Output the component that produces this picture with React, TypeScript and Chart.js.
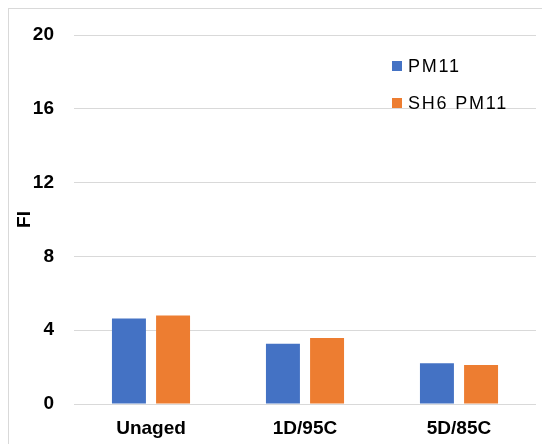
import React, { useEffect, useRef } from "react";
import { Chart, registerables } from "chart.js";

Chart.register(...registerables);

const categories = ["Unaged", "1D/95C", "5D/85C"];
const seriesNames = ["PM11", "SH6 PM11"];
const pm11 = [4.64, 3.26, 2.21];
const sh6pm11 = [4.8, 3.58, 2.12];
const yTicks = [0, 4, 8, 12, 16, 20];
const yTitle = "FI";

const BLUE = "#4472C4";
const ORANGE = "#ED7D31";
const GRID = "#d9d9d9";

const legendPlugin = {
  id: "insideLegend",
  afterDraw(chart: any) {
    const ctx = chart.ctx;
    const ds = chart.data.datasets;
    const x = 383;
    const y0 = 57;
    const gap = 37;
    ctx.save();
    ctx.font = "18px 'Liberation Sans', Arial, sans-serif";
    (ctx as any).letterSpacing = "1.8px";
    ctx.textBaseline = "middle";
    ctx.textAlign = "left";
    ds.forEach((d: any, i: number) => {
      const y = y0 + i * gap;
      ctx.fillStyle = d.backgroundColor;
      ctx.fillRect(x, y - 5, 10, 10);
      ctx.fillStyle = "#000";
      ctx.fillText(d.label, x + 16, y + 1);
    });
    ctx.restore();
  },
};

export default function App() {
  const ref = useRef<HTMLCanvasElement>(null);
  useEffect(() => {
    if (!ref.current) return;
    const chart = new Chart(ref.current, {
      type: "bar",
      data: {
        labels: categories,
        datasets: [
          { label: seriesNames[0], data: pm11, backgroundColor: BLUE },
          { label: seriesNames[1], data: sh6pm11, backgroundColor: ORANGE },
        ],
      },
      options: {
        animation: false,
        responsive: false,
        maintainAspectRatio: false,
        datasets: { bar: { categoryPercentage: 0.573, barPercentage: 0.77 } },
        layout: { padding: { top: 26, right: 14, bottom: 0, left: 0 } },
        plugins: { legend: { display: false }, tooltip: { enabled: false } },
        scales: {
          x: {
            afterFit: (scale: any) => {
              scale.height = 40;
            },
            grid: { display: false, drawTicks: false },
            border: { display: false },
            ticks: {
              color: "#000",
              padding: 13,
              font: { family: "'Liberation Sans', Arial, sans-serif", size: 19, weight: "bold" },
            },
          },
          y: {
            min: 0,
            max: 20,
            afterBuildTicks: (scale: any) => {
              scale.ticks = yTicks.map((v) => ({ value: v }));
            },
            afterFit: (scale: any) => {
              scale.width = 65;
              scale.paddingTop = 0;
              scale.paddingBottom = 0;
            },
            grid: { color: GRID, lineWidth: 1, drawTicks: false },
            border: { display: false },
            ticks: {
              color: "#000",
              padding: 20,
              font: { family: "'Liberation Sans', Arial, sans-serif", size: 19, weight: "bold" },
            },
            title: {
              display: true,
              text: yTitle,
              color: "#000",
              padding: { top: 4, bottom: 0 },
              font: { family: "'Liberation Sans', Arial, sans-serif", size: 19, weight: "bold" },
            },
          },
        },
      },
      plugins: [legendPlugin],
    } as any);
    return () => chart.destroy();
  }, []);
  return (
    <div
      style={{
        width: 541,
        height: 435,
        borderTop: `1px solid ${GRID}`,
        borderLeft: `1px solid ${GRID}`,
        background: "#fff",
      }}
    >
      <canvas ref={ref} width={541} height={435} style={{ display: "block" }} />
    </div>
  );
}
